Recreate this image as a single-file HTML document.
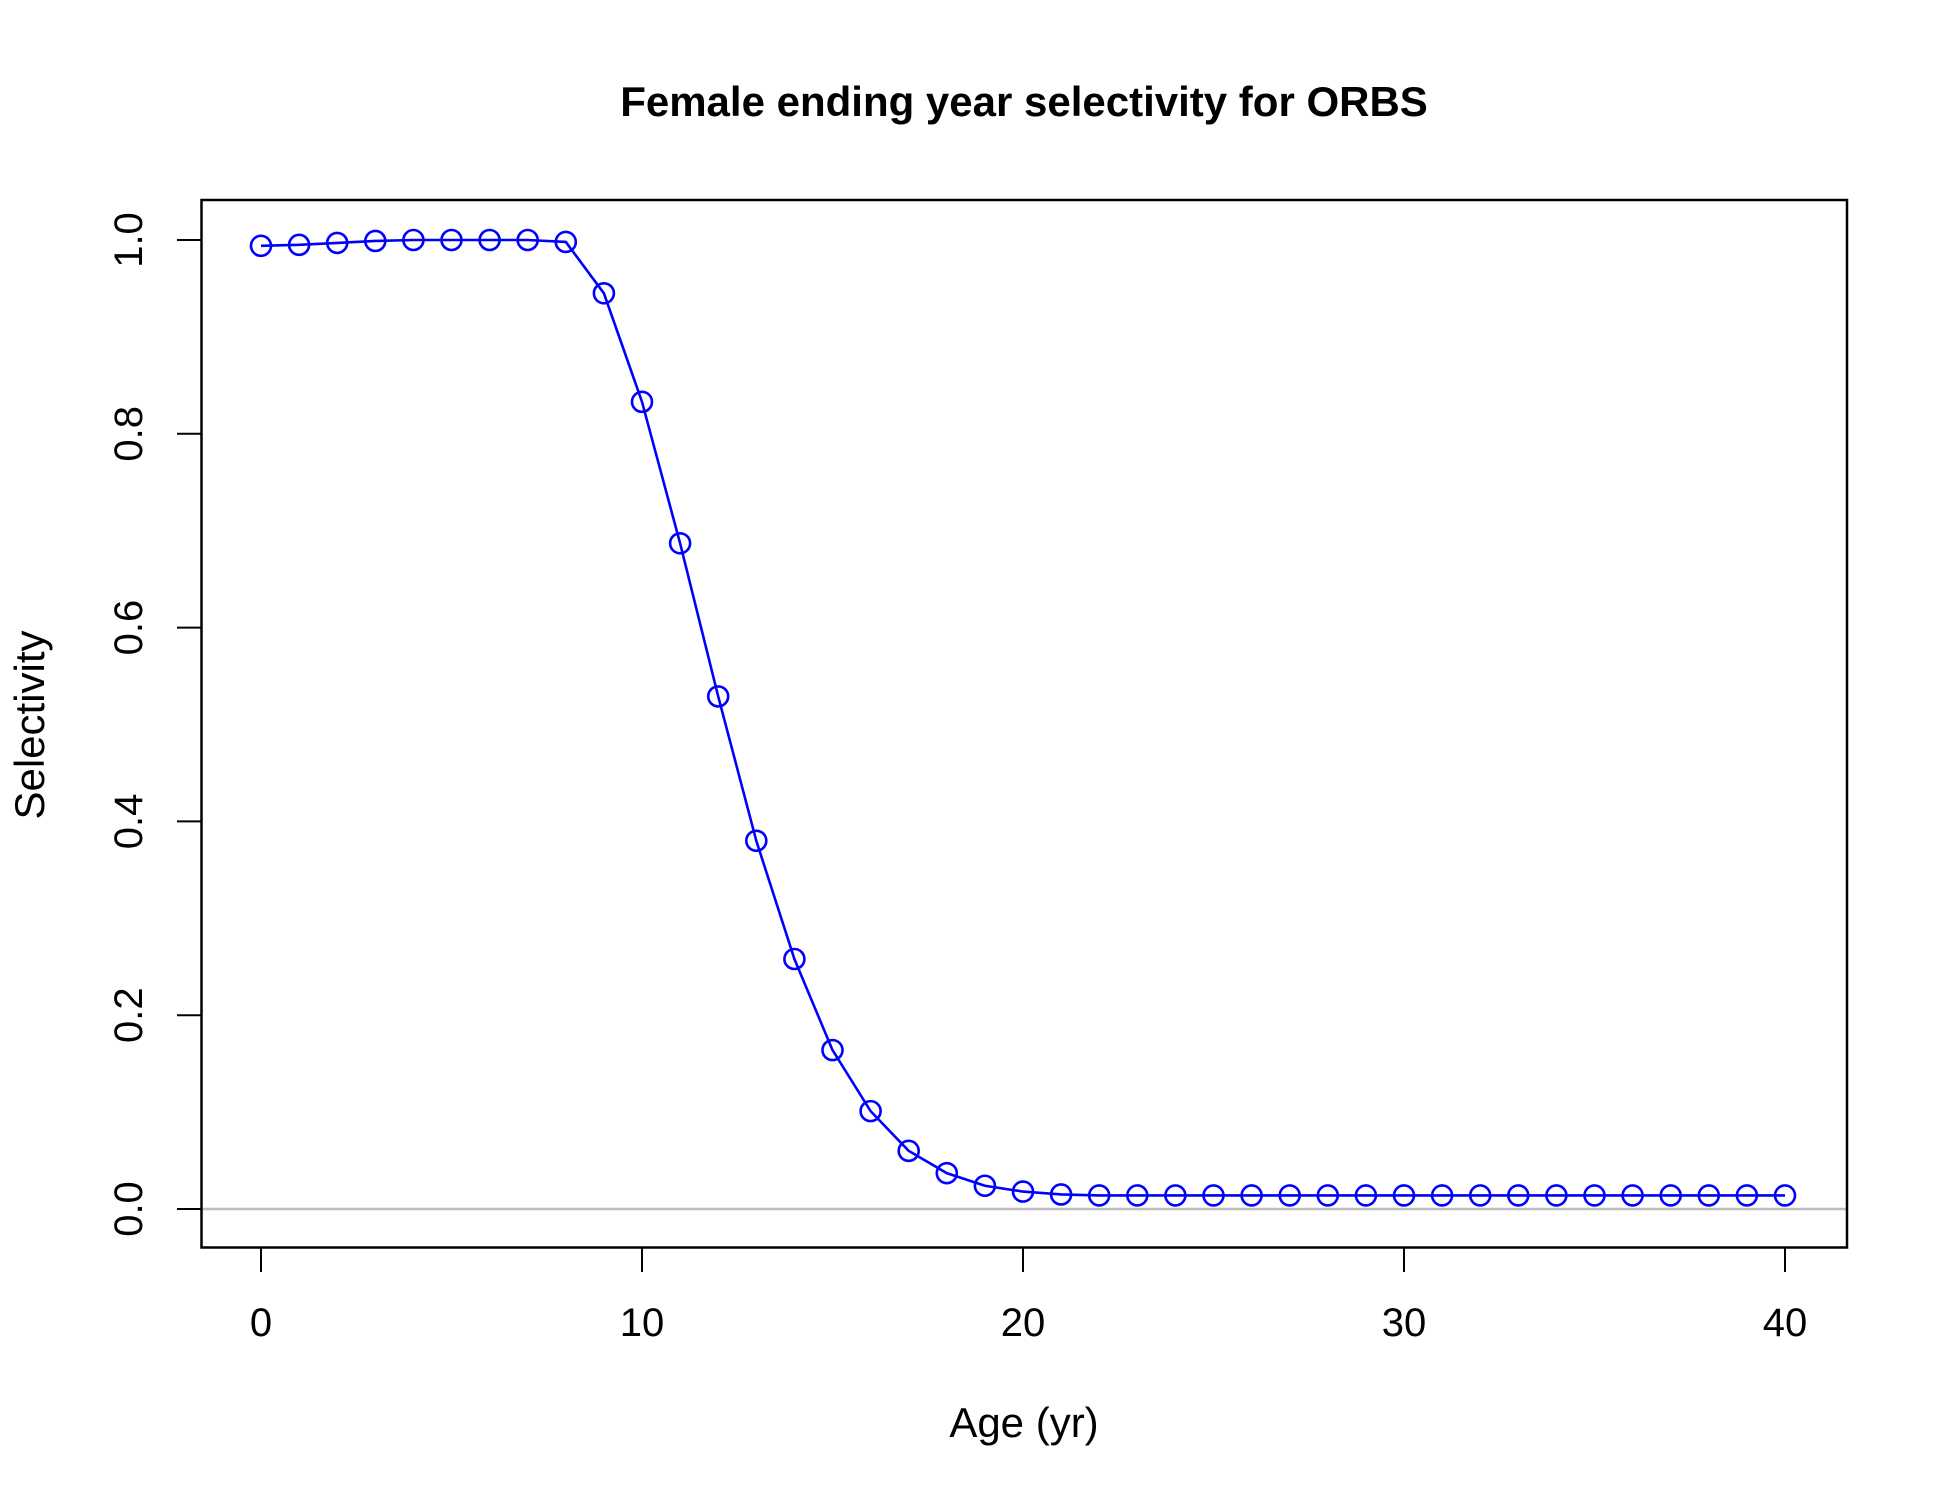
<!DOCTYPE html>
<html><head><meta charset="utf-8"><style>body{margin:0;background:#fff}svg{display:block}text{font-family:"Liberation Sans",Arial,sans-serif}</style></head>
<body>
<svg id="chart" width="1950" height="1500" xmlns="http://www.w3.org/2000/svg">
<text x="1024" y="116" text-anchor="middle" font-size="42" font-weight="bold">Female ending year selectivity for ORBS</text>
<text x="1024" y="1437" text-anchor="middle" font-size="42">Age (yr)</text>
<text transform="translate(44,725) rotate(-90)" text-anchor="middle" font-size="42">Selectivity</text>
<g id="g"></g>
<rect x="201.5" y="200" width="1645.5" height="1047.5" fill="none" stroke="#000" stroke-width="2.5"/>
</svg>
<script>
const ages=[0,1,2,3,4,5,6,7,8,9,10,11,12,13,14,15,16,17,18,19,20,21,22,23,24,25,26,27,28,29,30,31,32,33,34,35,36,37,38,39,40];
const sel=[0.994,0.995,0.997,0.999,1.0,1.0,1.0,1.0,0.998,0.945,0.833,0.687,0.529,0.380,0.258,0.164,0.101,0.060,0.037,0.024,0.018,0.015,0.014,0.014,0.014,0.014,0.014,0.014,0.014,0.014,0.014,0.014,0.014,0.014,0.014,0.014,0.014,0.014,0.014,0.014,0.014];
const xTicks=[0,10,20,30,40];
const yTicks=[0,0.2,0.4,0.6,0.8,1.0];
const yTickLabels=["0.0","0.2","0.4","0.6","0.8","1.0"];
const X=v=>261+(1785-261)*v/40;
const Y=v=>1209-(1209-240)*v;
const NS="http://www.w3.org/2000/svg";
const g=document.getElementById('g');
function mk(t,a){const e=document.createElementNS(NS,t);for(const k in a)e.setAttribute(k,a[k]);g.appendChild(e);return e;}
let e=mk('line',{x1:201.5,x2:1847,y1:Y(0),y2:Y(0),stroke:'#bebebe','stroke-width':2.5});


e=mk('line',{x1:X(xTicks[0]),x2:X(xTicks[xTicks.length-1]),y1:1247.5,y2:1247.5,stroke:'#000','stroke-width':2});


xTicks.forEach(t=>{
 let l=mk('line',{x1:X(t),x2:X(t),y1:1247.5,y2:1272,stroke:'#000','stroke-width':2});
 
 
 let tx=mk('text',{x:X(t),y:1336,'text-anchor':'middle','font-size':40});
 tx.textContent=t;
 
 
});
e=mk('line',{x1:201.5,x2:201.5,y1:Y(0),y2:Y(1),stroke:'#000','stroke-width':2});


yTicks.forEach((t,i)=>{
 let l=mk('line',{x1:177,x2:201.5,y1:Y(t),y2:Y(t),stroke:'#000','stroke-width':2});
 
 
 let tx=mk('text',{transform:`translate(142,${Y(t)}) rotate(-90)`,'text-anchor':'middle','font-size':40});
 tx.textContent=yTickLabels[i];
 
 
});
e=mk('polyline',{points:ages.map((a,i)=>X(a)+','+Y(sel[i])).join(' '),fill:'none',stroke:'#0000ff','stroke-width':2.6});


ages.forEach((a,i)=>{
 let c=mk('circle',{cx:X(a),cy:Y(sel[i]),r:10,fill:'none',stroke:'#0000ff','stroke-width':2.6});
 
 
});
</script>
</body></html>
